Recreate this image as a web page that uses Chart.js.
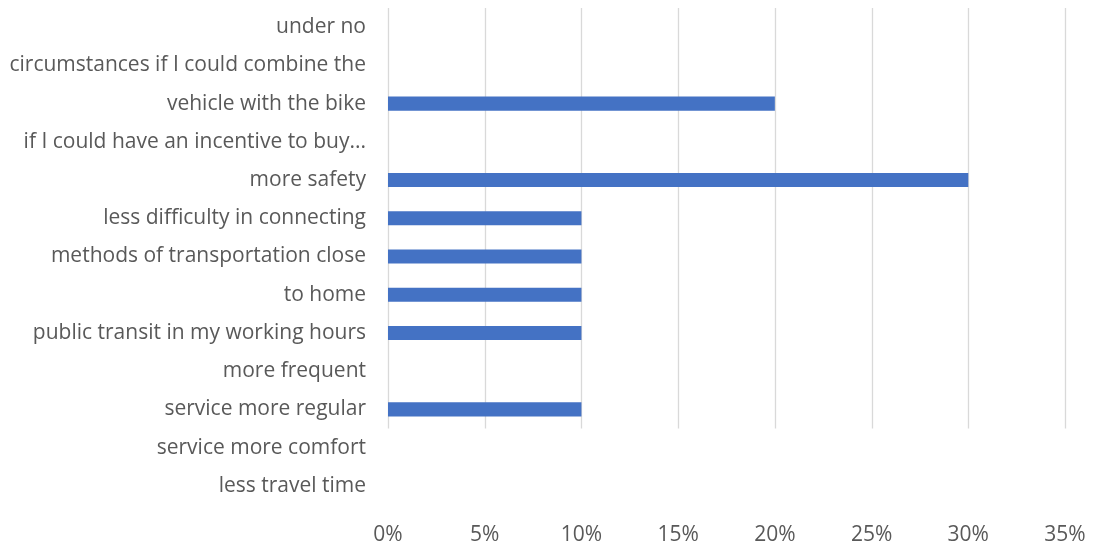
<!DOCTYPE html>
<html>
<head>
<meta charset="utf-8">
<script src="https://cdn.jsdelivr.net/npm/chart.js@4"></script>
<style>
  html, body { margin: 0; padding: 0; background: #fff; }
  #wrap { width: 1095px; height: 550px; }
</style>
</head>
<body>
<div id="wrap"><canvas id="reasonsChart" width="1095" height="550"></canvas></div>
<script>
// chart data
const categories = [
    'under no',
    'circumstances if I could combine the',
    'vehicle with the bike',
    'if I could have an incentive to buy...',
    'more safety',
    'less difficulty in connecting',
    'methods of transportation close',
    'to home',
    'public transit in my working hours',
    'more frequent',
    'service more regular',
    'service more comfort',
    'less travel time'
];
const shares = [0, 0, 20, 0, 30, 10, 10, 10, 10, 0, 10, 0, 0];
const xTicks = [0, 5, 10, 15, 20, 25, 30, 35];
const lastGridCategory = 'service more regular';

const textColor = '#595959';
const gridColor = '#d9d9d9';
const fontFamily = '"Open Sans", "Liberation Sans", sans-serif';

// Vertical gridlines stop below the last "plotted" category, like the Excel original
const shortGrid = {
    id: 'shortGrid',
    beforeDatasetsDraw(chart) {
        const x = chart.scales.x, y = chart.scales.y;
        const idx = categories.indexOf(lastGridCategory);
        const half = (y.getPixelForValue(1) - y.getPixelForValue(0)) / 2;
        const bottom = y.getPixelForValue(idx) + half;
        const ctx = chart.ctx;
        ctx.save();
        ctx.strokeStyle = gridColor;
        ctx.lineWidth = 1.3;
        x.ticks.forEach(function(t) {
            const px = Math.round(x.getPixelForValue(t.value)) + 0.5;
            ctx.beginPath();
            ctx.moveTo(px, chart.chartArea.top);
            ctx.lineTo(px, bottom);
            ctx.stroke();
        });
        ctx.restore();
    }
};

const ctx = document.getElementById('reasonsChart').getContext('2d');
const reasonsChart = new Chart(ctx, {
    type: 'bar',
    data: {
        labels: categories,
        datasets: [{
            data: shares,
            backgroundColor: '#4472c4',
            borderWidth: 0,
            barPercentage: 0.37,
            categoryPercentage: 1
        }]
    },
    options: {
        indexAxis: 'y',
        responsive: false,
        animation: false,
        layout: { padding: { top: 8, right: 30, bottom: 0, left: 0 } },
        plugins: {
            legend: { display: false },
            tooltip: { enabled: false }
        },
        scales: {
            x: {
                min: 0,
                max: 35,
                afterBuildTicks: function(scale) {
                    scale.ticks = xTicks.map(v => ({ value: v }));
                },
                afterFit: function(scale) {
                    scale.height = 45;
                    scale.paddingLeft = 0;
                    scale.paddingRight = 0;
                },
                grid: { display: false, drawTicks: false },
                border: { display: false },
                ticks: {
                    color: textColor,
                    padding: 17,
                    font: { family: fontFamily, size: 21 },
                    callback: v => v + '%'
                }
            },
            y: {
                afterFit: function(scale) {
                    scale.width = 388;
                    scale.paddingTop = 0;
                    scale.paddingBottom = 0;
                },
                grid: { display: false, drawTicks: false },
                border: { display: false },
                ticks: {
                    color: textColor,
                    padding: 22,
                    autoSkip: false,
                    font: { family: fontFamily, size: 21 }
                }
            }
        }
    },
    plugins: [shortGrid]
});
</script>
</body>
</html>
